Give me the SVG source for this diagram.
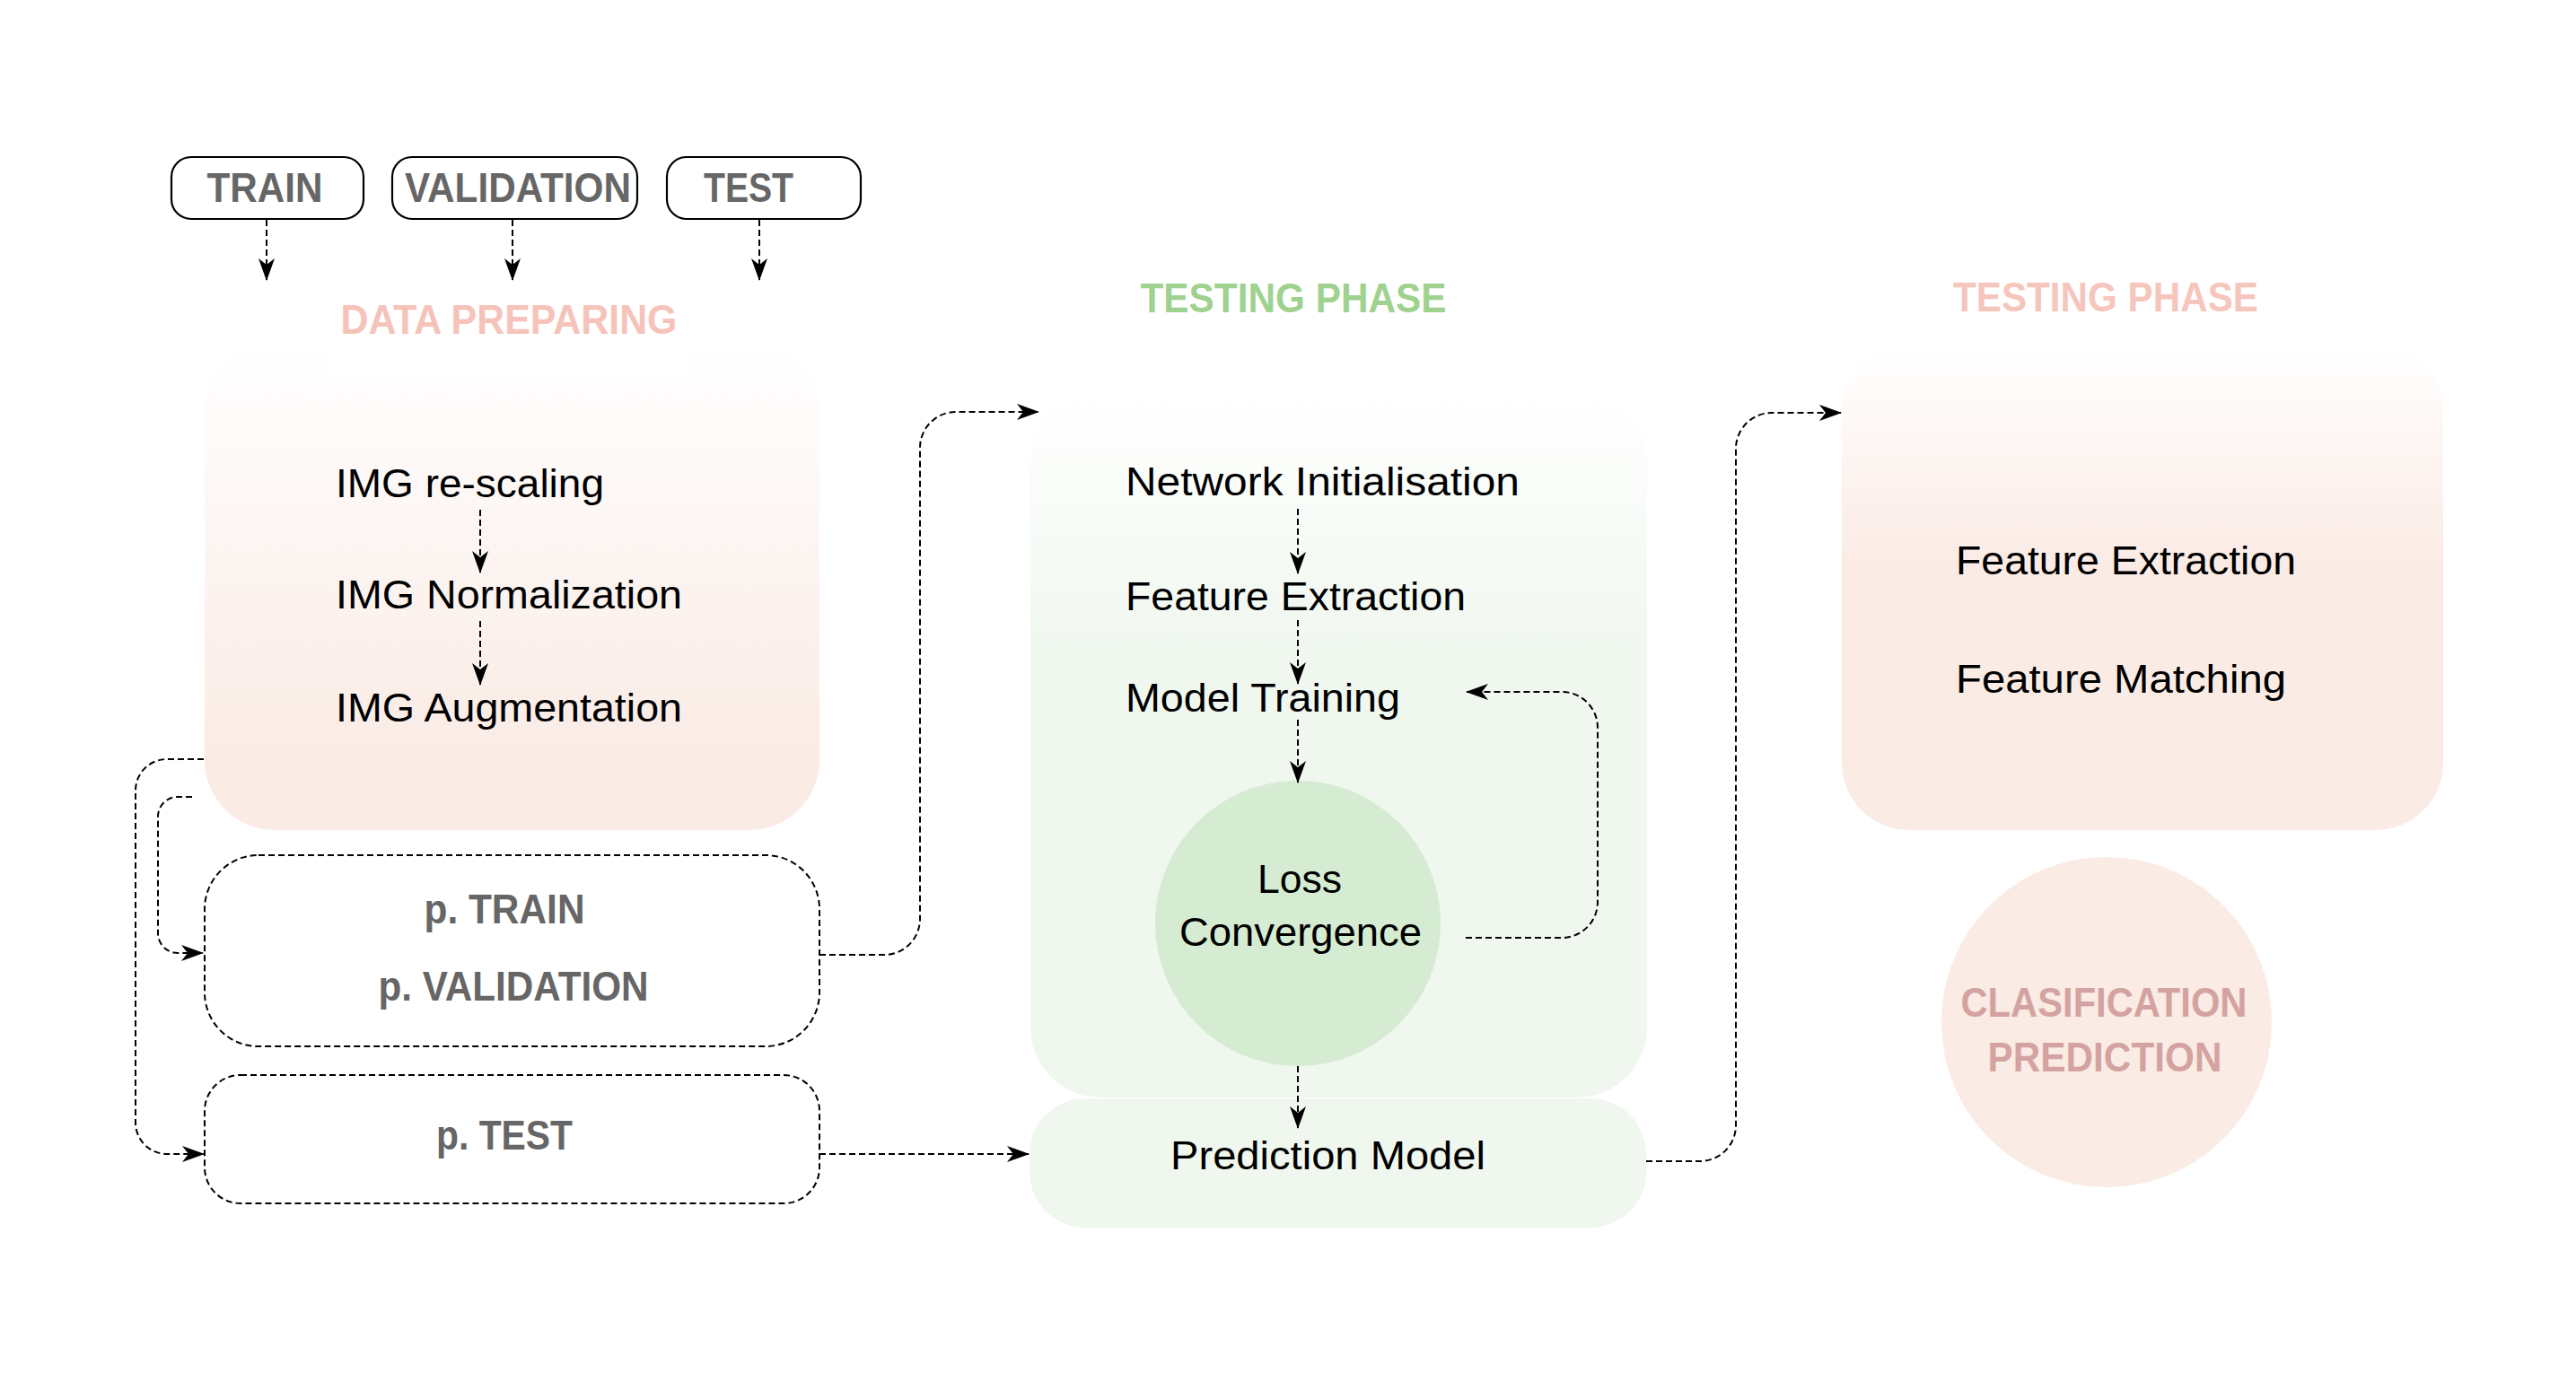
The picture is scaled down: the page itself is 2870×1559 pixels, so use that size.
<svg xmlns="http://www.w3.org/2000/svg" width="2870" height="1559" viewBox="0 0 2870 1559">
<style>
text { font-family: "Liberation Sans", Arial, sans-serif; }
.lbl { font-size: 45px; fill: #000; }
.gray { font-size: 46px; font-weight: bold; fill: #666; }
.title { font-size: 47px; font-weight: bold; }
.pill { fill: #fff; stroke: #000; stroke-width: 2.2; }
.dbox { fill: #fff; stroke: #000; stroke-width: 2; stroke-dasharray: 7 4; }
.conn { fill: none; stroke: #000; stroke-width: 2; stroke-dasharray: 7 4; marker-end: url(#ah); }
</style>
<defs>
<marker id="ah" viewBox="0 0 25 18" refX="24" refY="9" markerWidth="25" markerHeight="18" markerUnits="userSpaceOnUse" orient="auto">
<path d="M0,0 L25,9 L0,18 L7,9 Z" fill="#000"/>
</marker>
<linearGradient id="gPink" x1="0" y1="0" x2="0" y2="1">
<stop offset="0" stop-color="#ffffff"/>
<stop offset="0.85" stop-color="#faebe5"/>
<stop offset="1" stop-color="#faebe5"/>
</linearGradient>
<linearGradient id="gPink2" x1="0" y1="0" x2="0" y2="1">
<stop offset="0" stop-color="#ffffff"/>
<stop offset="0.45" stop-color="#fbebe5"/>
<stop offset="1" stop-color="#fbebe5"/>
</linearGradient>
<linearGradient id="gGreen" x1="0" y1="0" x2="0" y2="1">
<stop offset="0" stop-color="#ffffff"/>
<stop offset="0.4" stop-color="#eff7ee"/>
<stop offset="1" stop-color="#eff7ee"/>
</linearGradient>
</defs>
<rect width="2870" height="1559" fill="#fff"/>

<!-- Top input nodes -->
<g id="train">
<rect class="pill" x="191" y="175" width="214" height="69" rx="22"/>
<text class="gray" x="295" y="225" text-anchor="middle" textLength="129" lengthAdjust="spacingAndGlyphs" font-size="47">TRAIN</text>
</g>
<g id="validation">
<rect class="pill" x="437" y="175" width="273" height="69" rx="22"/>
<text class="gray" x="577" y="225" text-anchor="middle" textLength="252" lengthAdjust="spacingAndGlyphs" font-size="47">VALIDATION</text>
</g>
<g id="test">
<rect class="pill" x="743" y="175" width="216" height="69" rx="22"/>
<text class="gray" x="784" y="225" textLength="100" lengthAdjust="spacingAndGlyphs" font-size="47">TEST</text>
</g>

<!-- Data preparing -->
<g id="data-preparing">
<rect x="228" y="382" width="685" height="543" rx="78" fill="url(#gPink)"/>
<rect x="364" y="378" width="404" height="46" fill="#fff"/>
<text class="title" x="567" y="372" text-anchor="middle" textLength="375" lengthAdjust="spacingAndGlyphs" font-size="46" fill="#f5c3b9">DATA PREPARING</text>
<text class="lbl" x="374" y="554" textLength="299" lengthAdjust="spacingAndGlyphs">IMG re-scaling</text>
<text class="lbl" x="374" y="678" textLength="386" lengthAdjust="spacingAndGlyphs">IMG Normalization</text>
<text class="lbl" x="374" y="804" textLength="386" lengthAdjust="spacingAndGlyphs">IMG Augmentation</text>
</g>

<g id="p-train-val">
<rect class="dbox" x="228" y="953" width="685" height="213" rx="60"/>
<text class="gray" x="562" y="1029" text-anchor="middle" textLength="179" lengthAdjust="spacingAndGlyphs" font-size="44">p. TRAIN</text>
<text class="gray" x="572" y="1115" text-anchor="middle" textLength="301" lengthAdjust="spacingAndGlyphs" font-size="44">p. VALIDATION</text>
</g>
<g id="p-test">
<rect class="dbox" x="228" y="1198" width="685" height="143" rx="40"/>
<text class="gray" x="562" y="1281" text-anchor="middle" textLength="152" lengthAdjust="spacingAndGlyphs" font-size="44">p. TEST</text>
</g>

<!-- Training phase (green) -->
<g id="training-phase">
<rect x="1148" y="435" width="687" height="788" rx="78" fill="url(#gGreen)"/>
<text class="title" x="1441" y="348" text-anchor="middle" textLength="341" lengthAdjust="spacingAndGlyphs" fill="#9fd28f">TESTING PHASE</text>
<text class="lbl" x="1254" y="552" textLength="439" lengthAdjust="spacingAndGlyphs">Network Initialisation</text>
<text class="lbl" x="1254" y="680" textLength="379" lengthAdjust="spacingAndGlyphs">Feature Extraction</text>
<text class="lbl" x="1254" y="793" textLength="306" lengthAdjust="spacingAndGlyphs">Model Training</text>
</g>
<g id="loss-convergence">
<circle cx="1446" cy="1029" r="159" fill="#d5ecd2"/>
<text class="lbl" x="1448" y="995" text-anchor="middle" textLength="94" lengthAdjust="spacingAndGlyphs" fill="#4a4a4a">Loss</text>
<text class="lbl" x="1449" y="1054" text-anchor="middle" textLength="270" lengthAdjust="spacingAndGlyphs" fill="#4a4a4a">Convergence</text>
</g>
<g id="prediction-model">
<rect x="1147" y="1224" width="687" height="144" rx="62" fill="#eff7ee"/>
<text class="lbl" x="1304" y="1303" textLength="351" lengthAdjust="spacingAndGlyphs">Prediction Model</text>
</g>

<!-- Testing phase (pink) -->
<g id="testing-phase">
<rect x="2052" y="384" width="670" height="541" rx="75" fill="url(#gPink2)"/>
<text class="title" x="2346" y="347" text-anchor="middle" textLength="340" lengthAdjust="spacingAndGlyphs" fill="#f6c5bc">TESTING PHASE</text>
<text class="lbl" x="2179" y="640" textLength="379" lengthAdjust="spacingAndGlyphs">Feature Extraction</text>
<text class="lbl" x="2179" y="772" textLength="368" lengthAdjust="spacingAndGlyphs">Feature Matching</text>
</g>
<g id="classification-prediction">
<circle cx="2347" cy="1139" r="184" fill="#faebe5"/>
<text class="title" x="2344" y="1133" text-anchor="middle" textLength="319" lengthAdjust="spacingAndGlyphs" font-size="45" fill="#d4a3a1">CLASIFICATION</text>
<text class="title" x="2345" y="1194" text-anchor="middle" textLength="261" lengthAdjust="spacingAndGlyphs" font-size="45" fill="#d4a3a1">PREDICTION</text>
</g>

<!-- Connectors -->
<g id="connectors">
<path class="conn" d="M297,245 V312"/>
<path class="conn" d="M571,245 V312"/>
<path class="conn" d="M846,245 V312"/>
<path class="conn" d="M535,568 V638"/>
<path class="conn" d="M535,692 V763"/>
<path class="conn" d="M227,846 H186 A35,35 0 0 0 151,881 V1251 A35,35 0 0 0 186,1286 H227"/>
<path class="conn" d="M214,888 H198 A22,22 0 0 0 176,910 V1040 A22,22 0 0 0 198,1062 H226"/>
<path class="conn" d="M913,1064 H985 A40,40 0 0 0 1025,1024 V499 A40,40 0 0 1 1065,459 H1157"/>
<path class="conn" d="M913,1286 H1146"/>
<path class="conn" d="M1446,567 V639"/>
<path class="conn" d="M1446,691 V762"/>
<path class="conn" d="M1446,802 V872"/>
<path class="conn" d="M1446,1188 V1257"/>
<path class="conn" d="M1633,1045 H1740 A40,40 0 0 0 1780,1005 V811 A40,40 0 0 0 1740,771 H1634"/>
<path class="conn" d="M1834,1294 H1894 A40,40 0 0 0 1934,1254 V500 A40,40 0 0 1 1974,460 H2051"/>
</g>
</svg>
